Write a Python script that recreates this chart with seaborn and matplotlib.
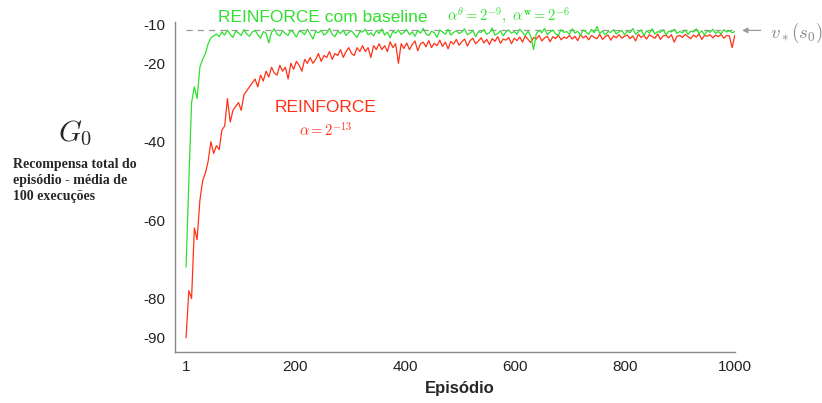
import numpy as np
import pandas as pd
import matplotlib
matplotlib.use("Agg")
import matplotlib.pyplot as plt
import seaborn as sns

# Retorno medio (G0) por episodio (um ponto a cada ~5 episodios)
episodios = np.linspace(1, 1000, 200)

g0_baseline = [
    -72, -50, -30, -26, -29, -21, -19, -17.5, -15, -13.5, -13, -12.5, -13.2, -12, -12.8, -11.5, -12.6, -13.4, -11.8, -12.2,
    -12.9, -11.4, -12.5, -13.1, -12.0, -11.6, -12.7, -13.6, -11.9, -12.3, -14.8, -12.1, -11.2, -12.6, -13.0, -11.7, -12.4, -12.9, -11.5, -12.2,
    -13.3, -11.8, -12.0, -12.7, -11.3, -12.5, -13.8, -11.9, -12.2, -11.6, -12.8, -12.3, -11.1, -12.6, -13.2, -11.8, -12.4, -11.5, -12.9, -12.1,
    -11.7, -12.6, -13.4, -11.9, -12.0, -11.3, -12.7, -12.2, -13.0, -11.6, -12.4, -11.2, -12.8, -12.0, -13.5, -11.8, -12.3, -11.5, -12.6, -12.1,
    -11.4, -12.7, -12.0, -13.1, -11.6, -12.3, -11.1, -12.5, -12.9, -11.8, -12.2, -13.4, -11.5, -12.0, -12.6, -11.3, -12.8, -12.1, -11.7, -12.4,
    -12.0, -11.2, -12.7, -12.3, -11.6, -13.2, -11.9, -12.1, -11.4, -12.6, -12.2, -11.0, -12.8, -12.4, -11.7, -13.0, -12.0, -11.5, -12.3, -11.9,
    -12.6, -11.3, -12.1, -12.9, -11.8, -13.1, -16.5, -12.4, -11.6, -12.2, -11.1, -12.7, -12.0, -11.5, -12.5, -12.8, -11.4, -12.1, -11.9, -12.6,
    -11.2, -12.3, -11.8, -12.9, -11.5, -12.0, -12.6, -11.3, -12.2, -10.6, -12.4, -11.7, -12.8, -11.9, -12.1, -11.4, -12.5, -12.0, -11.6, -12.7,
    -11.8, -12.2, -11.1, -12.6, -12.0, -11.5, -12.9, -11.7, -12.3, -11.2, -12.5, -11.9, -12.1, -11.4, -12.7, -11.8, -12.0, -11.3, -12.4, -11.9,
    -12.2, -11.5, -12.6, -11.8, -12.0, -11.2, -12.4, -11.7, -12.8, -11.6, -12.1, -11.3, -12.3, -11.9, -12.5, -11.4, -12.0, -11.7, -12.2, -11.9,
]

g0_reinforce = [
    -90, -78, -80, -62, -65, -55, -50, -48, -45, -40, -43, -41, -42, -37, -36, -29, -35, -32, -31, -30,
    -32, -28, -27, -26, -25, -24, -26, -23, -24.5, -22, -23.5, -21, -22.5, -23, -20.5, -22, -21, -24, -20, -21.5,
    -19.5, -20.5, -22, -19, -20, -18.5, -20, -19, -17.5, -19.5, -18, -18.5, -17, -19, -17.5, -18, -16.5, -18.5, -17, -16,
    -17.5, -18, -16, -17, -15.5, -17, -16, -18.5, -15.5, -16.5, -15, -16.5, -15.5, -17, -14.5, -16, -15, -20, -15, -16.2,
    -14.8, -16.5, -15.2, -14.3, -16.8, -15, -14.6, -15.8, -14.2, -16, -14.9, -15.5, -14.1, -15.7, -14.6, -16.3, -14.4, -15.1, -13.9, -15.4,
    -14.5, -13.8, -15.6, -14.2, -13.6, -15.0, -14.3, -13.5, -14.8, -13.9, -15.2, -13.7, -14.4, -13.2, -14.9, -13.8, -14.1, -13.4, -15.0, -13.6,
    -14.2, -13.3, -14.6, -13.0, -13.9, -14.7, -13.4, -13.8, -12.9, -14.3, -13.5, -13.1, -14.5, -13.2, -13.7, -12.8, -14.0, -13.3, -13.6, -12.9,
    -13.8, -13.1, -14.2, -12.7, -13.5, -13.0, -14.0, -12.9, -13.4, -13.7, -12.6, -13.9, -13.2, -12.8, -14.1, -13.0, -13.5, -12.7, -13.6, -13.1,
    -12.8, -13.7, -13.0, -14.3, -12.6, -13.4, -12.9, -13.8, -12.7, -13.2, -13.6, -12.5, -13.9, -13.0, -12.8, -13.5, -12.7, -14.6, -13.1, -12.9,
    -13.4, -12.6, -13.2, -13.7, -12.8, -13.3, -12.5, -13.9, -12.9, -13.1, -12.7, -13.5, -12.8, -13.2, -12.6, -13.6, -12.9, -13.0, -16.0, -12.8,
]

v_otimo = -11.6
xticks = [1, 200, 400, 600, 800, 1000]
yticks = [-10, -20, -40, -60, -80, -90]

verde = "#2fe02f"
vermelho = "#ff3217"
cinza = "#9a9a9a"

df = pd.DataFrame({"ep": episodios, "base": g0_baseline, "rf": g0_reinforce})

sns.set_style("white")
plt.rcParams["font.family"] = ["Liberation Sans", "DejaVu Sans"]
plt.rcParams["mathtext.fontset"] = "cm"

fig = plt.figure(figsize=(8.22, 4.03), dpi=100)
ax = fig.add_axes([0.213, 0.127, 0.681, 0.818])

ax.plot([1, 1000], [v_otimo, v_otimo], color=cinza, lw=0.9, ls=(0, (5, 4)), zorder=1)
sns.lineplot(data=df, x="ep", y="rf", color=vermelho, lw=0.9, ax=ax, zorder=2)
sns.lineplot(data=df, x="ep", y="base", color=verde, lw=0.9, ax=ax, zorder=3)

ax.set_xlim(-19, 1000)
ax.set_ylim(-93.6, -9.5)
ax.set_xticks(xticks)
ax.set_yticks(yticks)
ax.set_xticklabels([str(t) for t in xticks])
ax.set_yticklabels([str(t) for t in yticks])
ax.tick_params(axis="x", direction="in", length=4, width=0.9, color="#888888",
               labelsize=11, labelcolor="#222222", pad=6)
ax.tick_params(axis="y", direction="out", length=4, width=0.9, color="#888888",
               labelsize=11, labelcolor="#222222", pad=3)
for s in ["top", "right"]:
    ax.spines[s].set_visible(False)
for s in ["left", "bottom"]:
    ax.spines[s].set_color("#888888")
    ax.spines[s].set_linewidth(1.0)
ax.set_xlabel("")
ax.set_ylabel("")

# rotulos das curvas
fig.text(218 / 822, 1 - 18 / 403, "REINFORCE com baseline", color=verde, fontsize=12.5,
         ha="left", va="center")
fig.text(447 / 822, 1 - 16 / 403, r"$\alpha^{\theta}=2^{-9},\ \alpha^{\mathbf{w}}=2^{-6}$",
         color=verde, fontsize=10.5, ha="left", va="center")
fig.text(326 / 822, 1 - 107 / 403, "REINFORCE", color=vermelho, fontsize=12.5,
         ha="center", va="center")
fig.text(326 / 822, 1 - 130 / 403, r"$\alpha=2^{-13}$", color=vermelho, fontsize=10.5,
         ha="center", va="center")

# seta do valor otimo
ax.annotate("", xy=(1008, v_otimo), xytext=(1052, v_otimo),
            arrowprops=dict(arrowstyle="-|>", color=cinza, lw=0.9, mutation_scale=8),
            annotation_clip=False)
fig.text(770 / 822, 1 - 33 / 403, r"$v_*(s_0)$", color="#888888", fontsize=13.5,
         ha="left", va="center")

# rotulo do eixo y
fig.text(75 / 822, 1 - 133 / 403, r"$G_0$", fontsize=21, ha="center", va="center")
fig.text(13 / 822, 1 - 158 / 403, "Recompensa total do\nepisódio - média de\n100 execuções",
         fontsize=10, fontweight="bold", family=["Liberation Serif", "DejaVu Serif"],
         ha="left", va="top", linespacing=1.3)

fig.text(460 / 822, 1 - 388 / 403, "Episódio", fontsize=12, fontweight="bold",
         ha="center", va="center")

fig.savefig("out.png", dpi=100, facecolor="white")
